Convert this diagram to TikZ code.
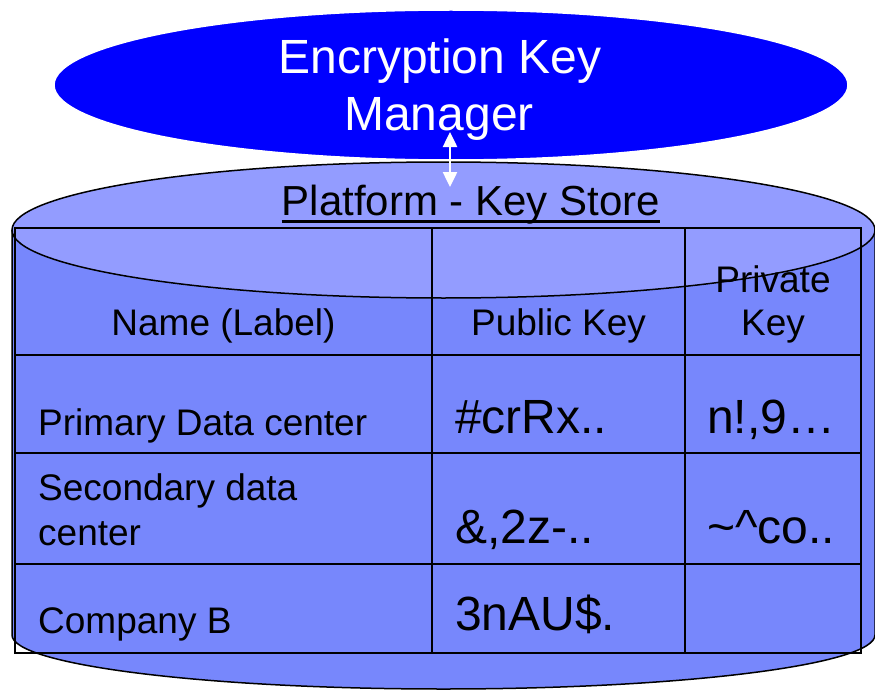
\documentclass[tikz,border=0pt]{standalone}
\usepackage{fontspec}
\setmainfont{Liberation Sans}
\usetikzlibrary{arrows.meta,shapes.geometric}

\definecolor{keymgr}{RGB}{0,0,255}
\definecolor{storetop}{RGB}{147,156,255}
\definecolor{storebody}{RGB}{119,135,252}

\tikzset{
  storeline/.style={draw=black,line width=1.5pt},
  gridline/.style={draw=black,line width=2.3pt},
  mgrshape/.style={ellipse,fill=keymgr,draw=white,line width=1.5pt,
    minimum width=794pt,minimum height=150pt,inner sep=0pt},
  mgrtext/.style={font=\fontsize{48}{58}\selectfont,text=white,inner sep=0pt,anchor=base},
  titletext/.style={font=\fontsize{42}{50}\selectfont,inner sep=0pt,anchor=base},
  hdr/.style={font=\fontsize{37}{44}\selectfont,inner sep=0pt,anchor=base},
  celltext/.style={font=\fontsize{37}{44}\selectfont,inner sep=0pt,anchor=base west},
  keytext/.style={font=\fontsize{48}{58}\selectfont,inner sep=0pt,anchor=base west},
  linkarrow/.style={draw=white,line width=2.5pt,
    {Triangle[width=14pt,length=15pt]}-{Triangle[width=14pt,length=15pt]}}
}

\begin{document}
\begin{tikzpicture}[x=1pt,y=-1pt]
\useasboundingbox (0,0) rectangle (875,690);

% key store cylinder: body, then the lid
\fill[storebody] (12,230) -- (12,635)
  arc[start angle=180,end angle=360,x radius=431.5pt,y radius=54pt]
  -- (875,230) -- cycle;
\draw[storeline] (12,230) -- (12,635)
  arc[start angle=180,end angle=360,x radius=431.5pt,y radius=54pt]
  -- (875,230);
\path[fill=storetop,storeline] (443.5,230) ellipse [x radius=431.5pt,y radius=68pt];

% table grid
\draw[gridline] (15,228) rectangle (861,653);
\draw[gridline] (15,355) -- (861,355);
\draw[gridline] (15,453) -- (861,453);
\draw[gridline] (15,564) -- (861,564);
\draw[gridline] (432,228) -- (432,653);
\draw[gridline] (685,228) -- (685,653);

% header row
\node[hdr] (hName) at (223.5,335) {Name (Label)};
\node[hdr] (hPub) at (558.5,335) {Public Key};
\node[hdr] (hPriv1) at (773,292) {Private};
\node[hdr] (hPriv2) at (773,335) {Key};

% entries
\node[celltext] (n1) at (38,435) {Primary Data center};
\node[celltext] (n2a) at (38,500) {Secondary data};
\node[celltext] (n2b) at (38,545) {center};
\node[celltext] (n3) at (38,633) {Company B};

\node[keytext] (pub1) at (455,433) {\#crRx..};
\node[keytext] (pub2) at (455,543) {\&,2z-..};
\node[keytext] (pub3) at (455,630) {3nAU\$.};

\node[keytext] (prv1) at (707,433) {n!,9…};
\node[keytext] (prv2) at (707,543) {\textasciitilde\textasciicircum co..};

% store title with underline
\node[titletext] (storeTitle) at (471,215) {Platform - Key Store};
\draw[line width=3pt] ([yshift=-6pt]storeTitle.base west) -- ([yshift=-6pt]storeTitle.base east);

% encryption key manager
\node[mgrshape] (mgr) at (451,85) {};
\node[mgrtext] (mgrL1) at (440,74) {Encryption Key};
\node[mgrtext] (mgrL2) at (439,131) {Manager};

% link between manager and store
\coordinate (linkTop) at (450,132);
\coordinate (linkBot) at (450,187);
\draw[linkarrow] (linkTop) -- (linkBot);
\end{tikzpicture}
\end{document}
